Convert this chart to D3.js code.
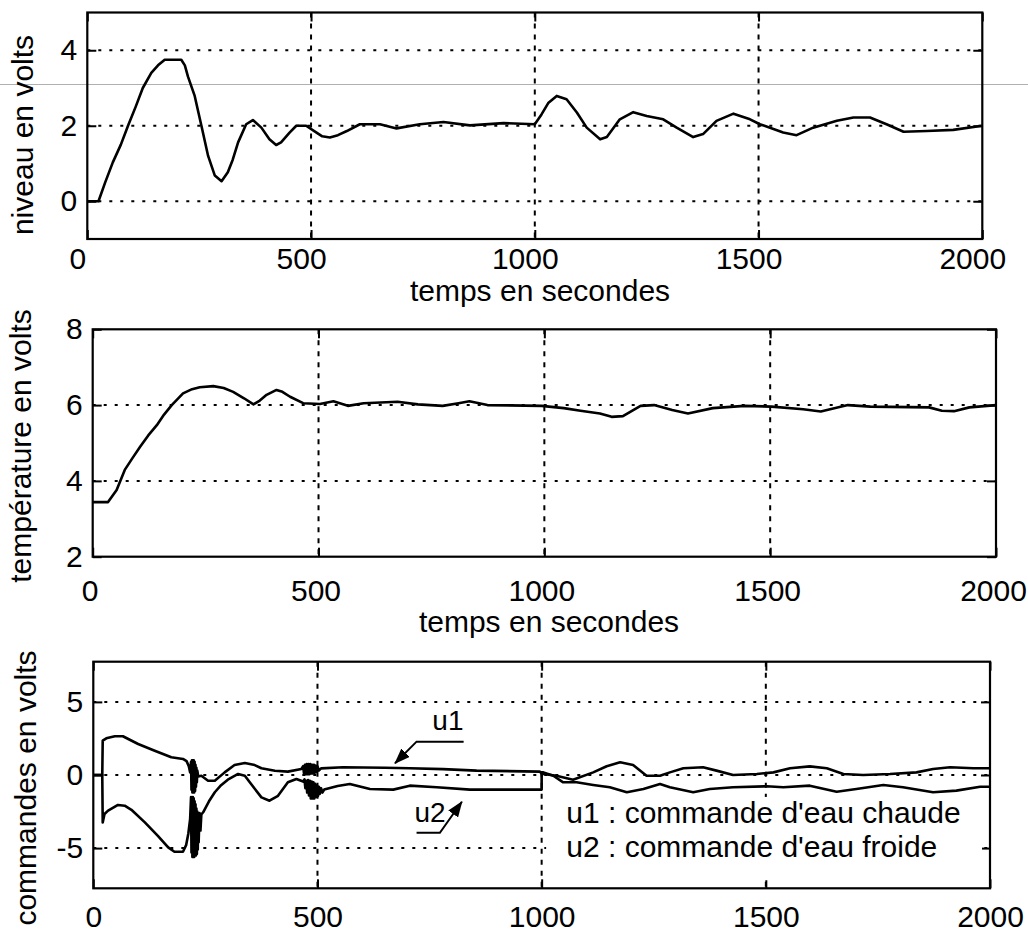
<!DOCTYPE html>
<html>
<head>
<meta charset="utf-8">
<script src="https://cdn.jsdelivr.net/npm/d3@7"></script>
<style>
body { margin: 0; background: #fff; }
svg { display: block; font-family: "Liberation Sans", Arial, sans-serif; }
</style>
</head>
<body>
<svg width="1028" height="934"></svg>
<script>
// tick values
var xTicks = [0, 500, 1000, 1500, 2000];
var niveauTicks = [0, 2, 4];
var tempTicks = [2, 4, 6, 8];
var cmdTicks = [-5, 0, 5];

// [temps (s), volts]
var niveau = [[0,0],[25,0],[40,0.5],[57,1.03],[75,1.5],[91,2.0],[108,2.5],[124,3.0],[143,3.4],[158,3.6],[173,3.75],
  [190,3.75],[210,3.75],[218,3.6],[225,3.3],[240,2.79],[255,2.0],[270,1.2],[285,0.68],[300,0.53],[314,0.77],[325,1.1],
  [337,1.56],[355,2.04],[370,2.15],[389,1.95],[407,1.64],[422,1.49],[433,1.56],[452,1.82],[467,2.0],[489,2.0],[508,1.85],
  [525,1.72],[542,1.69],[560,1.75],[580,1.86],[609,2.04],[654,2.04],[691,1.93],[743,2.04],[796,2.1],[855,2.01],[930,2.07],
  [1000,2.04],[1015,2.3],[1030,2.6],[1049,2.79],[1071,2.7],[1094,2.35],[1116,1.95],[1146,1.64],[1161,1.7],[1190,2.17],
  [1220,2.36],[1250,2.26],[1287,2.17],[1317,1.95],[1354,1.70],[1376,1.78],[1406,2.13],[1444,2.32],[1481,2.17],[1503,2.04],
  [1555,1.82],[1585,1.75],[1622,1.95],[1675,2.13],[1712,2.22],[1749,2.22],[1786,2.04],[1824,1.84],[1876,1.86],[1935,1.89],
  [2000,2.0]];

var temperature = [[0,3.44],[34,3.44],[53,3.76],[71,4.29],[88,4.6],[105,4.9],[123,5.2],[142,5.47],[158,5.75],[175,6.0],
  [200,6.31],[220,6.42],[237,6.47],[267,6.5],[290,6.45],[311,6.35],[335,6.18],[356,6.02],[370,6.12],[385,6.27],[407,6.4],
  [420,6.35],[437,6.22],[466,6.05],[503,6.03],[533,6.1],[565,5.98],[600,6.05],[675,6.09],[720,6.02],[775,5.98],[810,6.05],
  [834,6.1],[874,6.0],[994,5.98],[1043,5.92],[1080,5.85],[1123,5.78],[1149,5.69],[1174,5.71],[1213,5.98],[1243,6.0],
  [1283,5.87],[1318,5.78],[1373,5.92],[1443,5.98],[1503,5.96],[1573,5.89],[1612,5.83],[1672,6.0],[1722,5.96],[1852,5.94],
  [1880,5.85],[1907,5.84],[1941,5.94],[2000,6.0]];

var u1 = [[0,0],[20,0],[21,2.35],[29,2.51],[48,2.65],[66,2.65],[100,2.12],[137,1.66],[174,1.21],[200,1.1],[208,0.95],
  [213,0.6],[216,0.18],[218,0.9],[219,-1.0],[220,1.0],[221,-1.2],[222,1.0],[223,-1.2],[224,1.0],[225,-1.2],[226,0.9],
  [227,-1.1],[228,0.7],[229,-0.8],[230,0.5],[231,-0.5],[232,0.3],[234,-0.1],[241,-0.05],[256,-0.39],[271,-0.39],[293,0.18],
  [315,0.68],[338,0.82],[360,0.68],[375,0.46],[405,0.29],[434,0.23],[464,0.41],[468,0.6],[470,0.1],[472,0.7],[474,0.05],
  [476,0.75],[478,0.05],[480,0.75],[482,0.05],[484,0.75],[486,0.1],[488,0.7],[490,0.1],[492,0.7],[494,0.15],[496,0.65],
  [498,0.2],[500,0.6],[503,0.3],[508,0.45],[557,0.53],[650,0.5],[706,0.46],[780,0.4],[855,0.3],[996,0.23],[1000,0.1],
  [1004,0.07],[1033,-0.05],[1070,-0.32],[1115,0.18],[1145,0.6],[1175,0.87],[1204,0.68],[1234,-0.05],[1264,-0.05],
  [1286,0.18],[1316,0.46],[1360,0.53],[1390,0.3],[1427,0.0],[1480,0.07],[1517,0.18],[1554,0.46],[1598,0.59],[1636,0.46],
  [1673,0.07],[1717,0.0],[1777,0.07],[1836,0.18],[1873,0.41],[1911,0.53],[1963,0.46],[2000,0.46]];

var u2 = [[0,0],[20,0],[21,-3.24],[25,-2.67],[33,-2.44],[55,-2.05],[70,-2.1],[85,-2.38],[115,-3.24],[144,-4.16],
  [167,-4.95],[181,-5.25],[200,-5.25],[207,-4.8],[212,-4.0],[216,-3.0],[218,-1.5],[219,-5.3],[220,-1.6],[221,-5.6],
  [222,-1.5],[223,-5.6],[224,-1.6],[225,-5.6],[226,-1.8],[227,-5.5],[228,-2.0],[229,-5.5],[230,-2.3],[231,-5.4],[232,-2.5],
  [233,-5.1],[234,-2.6],[235,-4.6],[237,-2.6],[239,-3.8],[241,-2.7],[245,-2.55],[258,-1.8],[271,-1.18],[285,-0.7],
  [300,-0.32],[323,0.07],[338,-0.05],[352,-0.62],[375,-1.53],[393,-1.76],[412,-1.42],[434,-0.5],[453,-0.27],[468,-0.45],
  [471,-0.3],[473,-0.9],[475,-0.4],[477,-1.2],[479,-0.35],[481,-1.4],[483,-0.4],[485,-1.6],[487,-0.45],[489,-1.6],
  [491,-0.5],[493,-1.6],[495,-0.6],[497,-1.5],[499,-0.7],[501,-1.45],[503,-0.8],[505,-1.3],[508,-0.9],[511,-1.2],
  [515,-1.0],[545,-0.75],[572,-0.62],[617,-0.96],[669,-1.0],[706,-0.73],[766,-0.84],[840,-1.0],[1000,-1.0],[1000,0.18],
  [1004,0.18],[1026,-0.05],[1048,-0.5],[1078,-0.5],[1115,-0.68],[1152,-0.84],[1190,-1.18],[1227,-0.96],[1264,-0.62],
  [1286,-0.84],[1338,-1.18],[1375,-0.96],[1427,-0.84],[1502,-0.77],[1539,-0.84],[1598,-0.73],[1658,-1.14],[1702,-0.96],
  [1762,-0.68],[1806,-0.84],[1873,-1.18],[1925,-1.07],[1978,-0.8],[2000,-0.8]];

// annotations in data units of the bottom panel
var u1Arrow = [[826,2.28],[721,2.28],[673,0.8]];
var u2Arrow = [[721,-3.95],[773,-3.95],[822,-1.83]];
var arrowLabels = [{text: "u1", t: 791, v: 3.1}, {text: "u2", t: 751, v: -3.2}];
var legendLines = ["u1 : commande d'eau chaude", "u2 : commande d'eau froide"];

var svg = d3.select("svg");
var font = "'Liberation Sans', Arial, sans-serif";

svg.append("defs").append("marker")
    .attr("id", "head")
    .attr("viewBox", "0 0 16 12")
    .attr("refX", 15).attr("refY", 6)
    .attr("markerWidth", 16).attr("markerHeight", 12)
    .attr("markerUnits", "userSpaceOnUse")
    .attr("orient", "auto")
  .append("path")
    .attr("d", "M0,0L16,6L0,12z")
    .attr("fill", "#000");

// faint scanner streak across the page
svg.append("line")
    .attr("x1", 0).attr("x2", 1028).attr("y1", 84.5).attr("y2", 84.5)
    .attr("stroke", "#b0b0b0").attr("stroke-width", 1);

var panels = [
  {left: 87.3, right: 982.3, top: 12.5, bottom: 239, yDomain: [-1, 5], yTicks: niveauTicks,
   pad: 9, dx: -10, xLabel: "temps en secondes", xLabelX: 540, xLabelY: 301,
   yLabel: "niveau en volts", yLabelX: 33, yLabelY: 135, series: [niveau]},
  {left: 92.7, right: 996, top: 329.3, bottom: 556.7, yDomain: [2, 8], yTicks: tempTicks,
   pad: 23, dx: -3, xLabel: "temps en secondes", xLabelX: 549, xLabelY: 632,
   yLabel: "température en volts", yLabelX: 31, yLabelY: 446, series: [temperature]},
  {left: 93.3, right: 990, top: 661.7, bottom: 888.3, yDomain: [-7.75, 7.75], yTicks: cmdTicks,
   pad: 17, dx: 0, xLabel: null,
   yLabel: "commandes en volts", yLabelX: 36, yLabelY: 788, series: [u1, u2]}
];

var scales = panels.map(drawPanel);

// bottom panel annotations
var x3 = scales[2].x, y3 = scales[2].y;
var path3 = d3.line().x(function(d) { return x3(d[0]); }).y(function(d) { return y3(d[1]); });

svg.append("rect")
    .attr("x", x3(1010)).attr("y", y3(-1.5))
    .attr("width", x3(2000) - 8 - x3(1010)).attr("height", y3(-7.2) - y3(-1.5))
    .attr("fill", "#fff");

[u1Arrow, u2Arrow].forEach(function(a) {
  svg.append("path")
      .attr("d", path3(a))
      .attr("fill", "none")
      .attr("stroke", "#000")
      .attr("stroke-width", 2)
      .attr("marker-end", "url(#head)");
});

svg.selectAll(".alabel").data(arrowLabels).enter().append("text")
    .attr("class", "alabel")
    .attr("x", function(d) { return x3(d.t); })
    .attr("y", function(d) { return y3(d.v); })
    .attr("text-anchor", "middle")
    .attr("font-size", 28)
    .text(function(d) { return d.text; });

svg.selectAll(".legend").data(legendLines).enter().append("text")
    .attr("class", "legend")
    .attr("x", x3(1055))
    .attr("y", function(d, i) { return i ? y3(-5.6) : y3(-3.28); })
    .attr("font-size", 30)
    .text(function(d) { return d; });

function drawPanel(p) {
  var x = d3.scaleLinear().domain([0, 2000]).range([p.left, p.right]);
  var y = d3.scaleLinear().domain(p.yDomain).range([p.bottom, p.top]);
  var g = svg.append("g");
  var fmt = function(d) { return String(d); };

  // dotted grid, skipping lines on the frame
  g.append("g").selectAll("line")
    .data(p.yTicks.filter(function(d) { return d > p.yDomain[0] && d < p.yDomain[1]; }))
    .enter().append("line")
    .attr("x1", p.left).attr("x2", p.right)
    .attr("y1", y).attr("y2", y)
    .attr("stroke", "#000").attr("stroke-width", 2)
    .attr("stroke-dasharray", "3,8");

  g.append("g").selectAll("line")
    .data(xTicks.filter(function(d) { return d > 0 && d < 2000; }))
    .enter().append("line")
    .attr("x1", x).attr("x2", x)
    .attr("y1", p.top).attr("y2", p.bottom)
    .attr("stroke", "#000").attr("stroke-width", 2)
    .attr("stroke-dasharray", "5,6");

  var bottom = g.append("g")
      .attr("transform", "translate(0," + p.bottom + ")")
      .call(d3.axisBottom(x).tickValues(xTicks).tickFormat(fmt)
        .tickSizeInner(-9).tickSizeOuter(0).tickPadding(p.pad));
  bottom.selectAll("text").attr("dx", p.dx);

  g.append("g")
      .attr("transform", "translate(" + p.left + ",0)")
      .call(d3.axisLeft(y).tickValues(p.yTicks).tickFormat(fmt)
        .tickSizeInner(-9).tickSizeOuter(0).tickPadding(10));

  g.append("g")
      .attr("transform", "translate(0," + p.top + ")")
      .call(d3.axisTop(x).tickValues(xTicks).tickFormat("")
        .tickSizeInner(-9).tickSizeOuter(0));

  g.append("g")
      .attr("transform", "translate(" + p.right + ",0)")
      .call(d3.axisRight(y).tickValues(p.yTicks).tickFormat("")
        .tickSizeInner(-9).tickSizeOuter(0));

  g.selectAll(".domain").remove();
  g.selectAll(".tick line").attr("stroke-width", 2);
  g.selectAll(".tick text").attr("font-size", 30).attr("font-family", font).attr("fill", "#000");
  g.selectAll("g").attr("font-family", font);

  var line = d3.line()
      .x(function(d) { return x(d[0]); })
      .y(function(d) { return y(d[1]); });

  g.selectAll(".curve").data(p.series).enter().append("path")
      .attr("class", "curve")
      .attr("d", line)
      .attr("fill", "none")
      .attr("stroke", "#000")
      .attr("stroke-width", 2.6)
      .attr("stroke-linejoin", "round");

  g.append("rect")
      .attr("x", p.left).attr("y", p.top)
      .attr("width", p.right - p.left).attr("height", p.bottom - p.top)
      .attr("fill", "none").attr("stroke", "#000").attr("stroke-width", 2.2);

  if (p.xLabel) {
    g.append("text")
        .attr("x", p.xLabelX).attr("y", p.xLabelY)
        .attr("text-anchor", "middle")
        .attr("font-size", 30)
        .text(p.xLabel);
  }

  g.append("text")
      .attr("transform", "translate(" + p.yLabelX + "," + p.yLabelY + ") rotate(-90)")
      .attr("text-anchor", "middle")
      .attr("font-size", 30)
      .text(p.yLabel);

  return {x: x, y: y};
}
</script>
</body>
</html>
